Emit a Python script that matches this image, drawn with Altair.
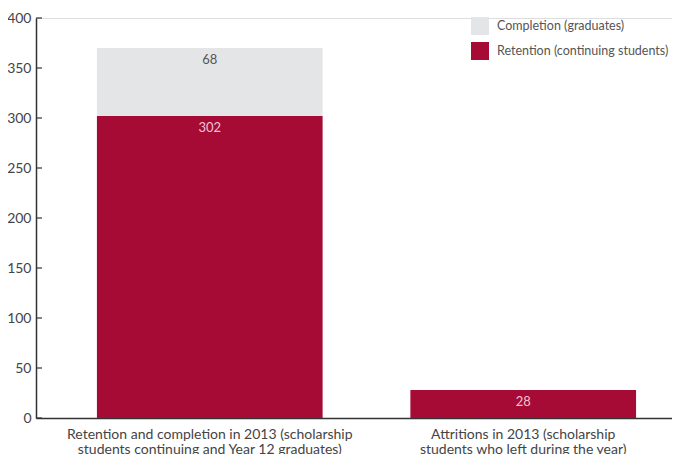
import altair as alt
import pandas as pd

categories = [
    "Retention and completion in 2013 (scholarship|students continuing and Year 12 graduates)",
    "Attritions in 2013 (scholarship|students who left during the year)",
]
series = ["Retention (continuing students)", "Completion (graduates)"]
retention = [302, 28]
completion = [68, 0]
y_ticks = [0, 50, 100, 150, 200, 250, 300, 350, 400]

rows = []
for i, c in enumerate(categories):
    rows.append({"category": c, "series": series[0], "value": retention[i], "rank": 0})
    if completion[i] > 0:
        rows.append({"category": c, "series": series[1], "value": completion[i], "rank": 1})
df = pd.DataFrame(rows)
ticks_df = pd.DataFrame({"t": y_ticks})

FONT = "Lato"
RED = "#A50B35"
GREY = "#E4E5E7"

x_enc = alt.X(
    "category:N",
    sort=categories,
    title=None,
    scale=alt.Scale(paddingInner=0.28, paddingOuter=0.1545, align=0.629),
    axis=alt.Axis(
        labelAngle=0,
        labelExpr="split(datum.label, '|')",
        ticks=False,
        labelPadding=9,
        labelFontSize=14,
        labelColor="#444",
        labelFont=FONT,
        labelLineHeight=15,
        labelLimit=0,
        labelOverlap=False,
        domainColor="#333",
        domainWidth=1.5,
    ),
)

y_scale = alt.Scale(domain=[0, 400], nice=False)

base = alt.Chart(df).transform_stack(
    stack="value", groupby=["category"], sort=[alt.SortField("rank")], as_=["y0", "y1"]
)

bars = base.mark_bar().encode(
    x=x_enc,
    y=alt.Y(
        "y0:Q",
        scale=y_scale,
        title=None,
        axis=alt.Axis(
            values=y_ticks,
            ticks=False,
            grid=False,
            labelPadding=5,
            labelFontSize=14,
            labelColor="#444",
            labelFont=FONT,
            domainColor="#333",
            domainWidth=1.5,
        ),
    ),
    y2="y1:Q",
    color=alt.Color(
        "series:N",
        scale=alt.Scale(domain=[series[1], series[0]], range=[GREY, RED]),
        legend=alt.Legend(
            title=None,
            orient="none",
            legendX=435,
            legendY=-1,
            symbolType="square",
            symbolSize=324,
            symbolStrokeWidth=0,
            labelFontSize=12.5,
            labelFont=FONT,
            labelColor="#555",
            labelOffset=8,
            labelLimit=0,
            rowPadding=7,
            padding=0,
        ),
    ),
)

labels = base.mark_text(fontSize=13, font=FONT, baseline="middle", dy=12).encode(
    x=alt.X("category:N", sort=categories),
    y=alt.Y("y1:Q", scale=y_scale),
    text=alt.Text("value:Q"),
    color=alt.condition(
        alt.datum.series == series[1], alt.value("#555"), alt.value("#F2C4D0")
    ),
)

tick_marks = alt.Chart(ticks_df).mark_rule(color="#333", strokeWidth=1.2).encode(
    x=alt.value(0),
    x2=alt.value(6),
    y=alt.Y("t:Q", scale=y_scale),
)

chart = (
    alt.layer(bars, labels, tick_marks)
    .properties(
        width=636,
        height=400,
        autosize="none",
        padding={"left": 28, "top": 10, "right": 0, "bottom": 36},
    )
    .configure_view(stroke=None)
    .configure(background="white")
)

chart.save("out.html", embed_options={"renderer": "svg", "actions": False})
